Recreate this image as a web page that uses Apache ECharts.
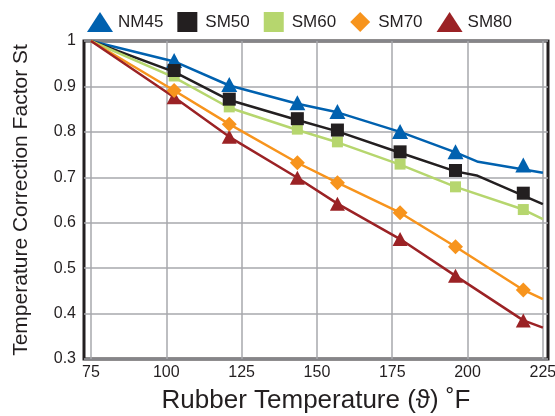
<!DOCTYPE html>
<html>
<head>
<meta charset="utf-8">
<script src="https://cdn.jsdelivr.net/npm/echarts@6/dist/echarts.min.js"></script>
<style>
html, body { margin: 0; padding: 0; background: #fff; }
#chart { width: 555px; height: 416px; }
</style>
</head>
<body>
<div id="chart"></div>
<script>
// marker temperatures (F) and factors
var temps = [102.6, 120.9, 143.5, 156.8, 177.6, 196.0, 218.5];
var xTicks = [75, 100, 125, 150, 175, 200, 225];
var nm45 = [0.957, 0.904, 0.864, 0.845, 0.801, 0.756, 0.727];
var sm50 = [0.935, 0.872, 0.829, 0.804, 0.756, 0.715, 0.665];
var sm60 = [0.923, 0.855, 0.806, 0.778, 0.729, 0.679, 0.629];
var sm70 = [0.891, 0.817, 0.732, 0.688, 0.622, 0.547, 0.452];
var sm80 = [0.876, 0.789, 0.699, 0.642, 0.564, 0.483, 0.385];

// fitted curves drawn behind the markers
var nm45Curve = [[75, 1], [102.6, 0.955], [120.9, 0.902], [143.5, 0.862], [156.8, 0.843], [177.6, 0.800], [196.0, 0.755], [203.5, 0.734], [225, 0.710]];
var sm50Curve = [[75, 1], [102.6, 0.932], [120.9, 0.870], [143.5, 0.826], [156.8, 0.801], [177.6, 0.754], [196.0, 0.713], [203, 0.704], [225, 0.641]];
var sm60Curve = [[75, 1], [102.6, 0.920], [120.9, 0.853], [143.5, 0.804], [156.8, 0.777], [177.6, 0.728], [196.0, 0.679], [218.5, 0.629], [225, 0.608]];
var sm70Curve = [[75, 1], [102.6, 0.891], [120.9, 0.817], [143.5, 0.732], [156.8, 0.688], [177.6, 0.622], [196.0, 0.547], [218.5, 0.452], [225, 0.432]];
var sm80Curve = [[75, 1], [102.6, 0.876], [120.9, 0.789], [143.5, 0.699], [156.8, 0.642], [177.6, 0.564], [196.0, 0.483], [218.5, 0.385], [225, 0.369]];

var colors = {
    NM45: '#0061af',
    SM50: '#231f20',
    SM60: '#b6d66e',
    SM70: '#f7941d',
    SM80: '#9b2225'
};
var font = 'Liberation Sans, Arial, sans-serif';

function pts(vals) {
    return vals.map(function (v, i) { return [temps[i], v]; });
}
function curve(name, data) {
    return {
        name: name, type: 'line', data: data, showSymbol: false, silent: true,
        lineStyle: { color: colors[name], width: 2.5 }, itemStyle: { color: colors[name] },
        z: 2
    };
}
function marks(name, vals, symbol, size) {
    return {
        name: name, type: 'scatter', data: pts(vals), symbol: symbol, symbolSize: size,
        itemStyle: { color: colors[name], opacity: 1 }, z: 3
    };
}

var option = {
    animation: false,
    textStyle: { fontFamily: font },
    legend: {
        top: 7, left: 82, itemGap: 14, itemWidth: 26, itemHeight: 20,
        textStyle: { fontSize: 17, color: '#231f20', fontFamily: font },
        data: [
            { name: 'NM45', icon: 'triangle' },
            { name: 'SM50', icon: 'path://M0,0H10V10H0Z' },
            { name: 'SM60', icon: 'path://M0,0H10V10H0Z' },
            { name: 'SM70', icon: 'path://M5,0L10,5L5,10L0,5Z' },
            { name: 'SM80', icon: 'triangle' }
        ]
    },
    grid: {
        left: 84, right: 7, top: 41, bottom: 57,
        outerBoundsMode: 'none',
        show: true, borderColor: '#231f20', borderWidth: 3
    },
    xAxis: {
        type: 'value', min: 72.68, max: 226.7,
        name: 'Rubber Temperature (\u03d1) \u02daF', nameLocation: 'middle', nameGap: 29,
        nameTextStyle: { fontSize: 26, color: '#231f20', fontFamily: font },
        axisLine: { show: false },
        axisTick: { show: false, customValues: xTicks },
        axisLabel: { customValues: xTicks, fontSize: 16, color: '#231f20', margin: 6, fontFamily: font },
        splitLine: { show: true, lineStyle: { color: '#a7a9ac', width: 1.5 } }
    },
    yAxis: {
        type: 'value', min: 0.3, max: 1, interval: 0.1,
        name: 'Temperature Correction Factor St', nameLocation: 'middle', nameGap: 52,
        nameTextStyle: { fontSize: 21, color: '#231f20', fontFamily: font },
        axisLine: { show: false },
        axisTick: { show: false },
        axisLabel: {
            fontSize: 16, color: '#231f20', margin: 8, fontFamily: font,
            formatter: function (v) { return String(Math.round(v * 10) / 10); }
        },
        splitLine: { show: true, lineStyle: { color: '#a7a9ac', width: 1.5 } }
    },
    series: [
        marks('NM45', nm45, 'triangle', [16, 15]),
        marks('SM60', sm60, 'rect', [11, 11]),
        marks('SM50', sm50, 'rect', [13, 13]),
        marks('SM80', sm80, 'triangle', [15, 14]),
        marks('SM70', sm70, 'diamond', [15, 15]),
        curve('NM45', nm45Curve),
        curve('SM50', sm50Curve),
        curve('SM60', sm60Curve),
        curve('SM70', sm70Curve),
        curve('SM80', sm80Curve)
    ]
};

echarts.init(document.getElementById('chart')).setOption(option);
</script>
</body>
</html>
